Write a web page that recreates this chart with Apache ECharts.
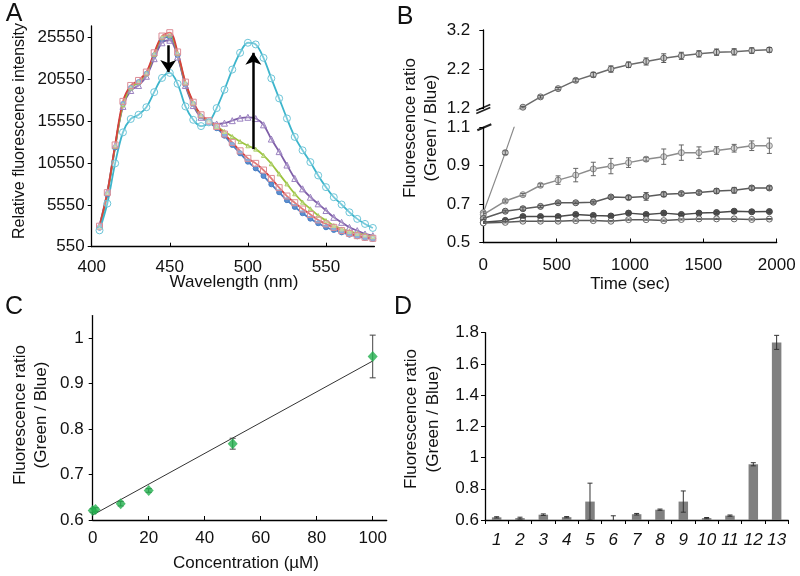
<!DOCTYPE html>
<html><head><meta charset="utf-8">
<script src="https://cdn.jsdelivr.net/npm/echarts@6/dist/echarts.min.js"></script>
<style>html,body{margin:0;padding:0;background:#fff}#c{width:800px;height:576px}</style>
</head><body><div id="c"></div>
<script>
// ---------- Panel A: emission spectra ----------
const wavelengths = [405,410,415,420,425,430,435,440,445,450,455,460,465,470,475,480,485,490,495,500,505,510,515,520,525,530,535,540,545,550,555,560,565,570,575,580];
const specBlue   = [2800,6800,12400,17600,19500,20200,21200,23400,25300,25600,23400,19900,17600,16100,15400,14700,13800,12700,11700,10700,9900,9000,8000,7050,6100,5300,4550,3900,3350,2870,2550,2260,1990,1790,1600,1470];
const specRed    = [3000,7000,12700,17900,19800,20400,21400,23700,25700,26100,23800,20200,17800,16300,15600,14900,14000,13000,12000,11100,10500,9700,8700,7600,6600,5800,5050,4400,3750,3270,2860,2470,2140,1870,1670,1550];
const specGreen  = [2900,6900,12500,17500,19500,20200,21200,23500,25500,25800,23600,20100,17700,16200,15500,14900,14300,13700,13100,12600,12200,11450,10450,9250,8050,6870,5870,5070,4270,3670,3070,2670,2380,2140,1950,1750];
const specPurple = [3100,7100,12600,17300,19200,19800,20900,23000,24900,25200,23200,19800,17400,16000,15500,15200,15300,15600,15900,16000,15850,15100,13400,11900,10300,8700,7460,6460,5670,4870,4060,3460,2860,2470,2070,1870];
const specCyan   = [2500,5700,10500,14200,15800,16300,17200,19000,20700,21300,20000,17300,15700,14950,15400,17100,19300,21700,23700,24900,24700,23100,20650,18260,15860,13660,12060,10650,9060,7660,6460,5590,4660,3870,3270,2790];
const specTicksX = [400,450,500,550];
const specTicksY = [550,5550,10550,15550,20550,25550];
const arrowDown = [[449,24600],[449,21400]];
const arrowUp   = [[503.5,12200],[503.5,23700]];

// ---------- Panel B: time course ----------
const times  = [0,150,270,390,510,630,750,870,990,1110,1230,1350,1470,1590,1710,1830,1950];
const ratio1 = [0.655,0.968,1.233,1.496,1.706,1.917,2.06,2.205,2.314,2.398,2.483,2.542,2.592,2.635,2.643,2.676,2.694];
const err1   = [0.005,0.01,0.02,0.03,0.03,0.04,0.06,0.08,0.07,0.09,0.11,0.09,0.08,0.08,0.08,0.07,0.06];
const ratio2 = [0.645,0.716,0.749,0.798,0.825,0.851,0.883,0.898,0.916,0.934,0.947,0.968,0.968,0.979,0.991,1.004,1.004];
const err2   = [0.005,0.006,0.006,0.008,0.022,0.035,0.035,0.04,0.025,0.01,0.04,0.04,0.03,0.02,0.02,0.025,0.04];
const ratio3 = [0.625,0.663,0.676,0.688,0.707,0.707,0.71,0.737,0.734,0.74,0.751,0.755,0.76,0.768,0.772,0.784,0.784];
const err3   = [0.004,0.005,0.008,0.005,0.004,0.004,0.005,0.006,0.01,0.02,0.012,0.008,0.008,0.012,0.015,0.01,0.01];
const ratio4 = [0.605,0.615,0.635,0.635,0.635,0.646,0.641,0.638,0.653,0.646,0.653,0.646,0.653,0.656,0.663,0.66,0.661];
const err4   = [0.004,0.004,0.005,0.005,0.005,0.005,0.005,0.005,0.005,0.005,0.005,0.005,0.005,0.005,0.006,0.005,0.005];
const ratio5 = [0.602,0.605,0.611,0.611,0.611,0.614,0.614,0.611,0.619,0.619,0.614,0.62,0.623,0.623,0.623,0.62,0.622];
const err5   = [0.003,0.003,0.003,0.003,0.003,0.003,0.003,0.003,0.003,0.003,0.003,0.003,0.003,0.003,0.003,0.003,0.003];
const timeTicks = [0,500,1000,1500,2000];
const ratioTicksLow  = [0.5,0.7,0.9,1.1];
const ratioTicksHigh = [1.2,2.2,3.2];

// ---------- Panel C: concentration ----------
const conc      = [0,1,10,20,50,100];
const concRatio = [0.621,0.623,0.636,0.665,0.768,0.96];
const concErr   = [0.004,0.004,0.005,0.004,0.012,0.047];
const concFit   = [[0,0.611],[100,0.950]];
const concTicksX = [0,20,40,60,80,100];
const concTicksY = [0.6,0.7,0.8,0.9,1];

// ---------- Panel D: selectivity ----------
const ions     = ['1','2','3','4','5','6','7','8','9','10','11','12','13'];
const ionRatio = [0.617,0.612,0.634,0.618,0.718,0.597,0.637,0.666,0.718,0.612,0.628,0.957,1.738];
const ionErr   = [0.004,0.006,0.005,0.004,0.118,0.03,0.005,0.004,0.068,0.004,0.004,0.01,0.045];
const ionTicksY = [0.6,0.8,1,1.2,1.4,1.6,1.8];

const FONT = 'Liberation Sans, Arial, sans-serif';
const txt = {color:'#111', fontFamily:FONT, fontSize:17};
const axLine = {show:true, onZero:false, lineStyle:{color:'#000', width:1.3}};
const fmt = v => String(v);

function xy(xs, ys){ return xs.map((x,i)=>[x, ys[i]]); }
function xye(xs, ys, es){ return xs.map((x,i)=>[x, ys[i], es[i]]); }
function errBars(color, cap){
  return function(params, api){
    const x = api.value(0), y = api.value(1), e = api.value(2);
    const hi = api.coord([x, y+e]), lo = api.coord([x, y-e]);
    const st = {stroke:color, lineWidth:1};
    return {type:'group', children:[
      {type:'line', shape:{x1:hi[0],y1:hi[1],x2:lo[0],y2:lo[1]}, style:st},
      {type:'line', shape:{x1:hi[0]-cap,y1:hi[1],x2:hi[0]+cap,y2:hi[1]}, style:st},
      {type:'line', shape:{x1:lo[0]-cap,y1:lo[1],x2:lo[0]+cap,y2:lo[1]}, style:st}
    ]};
  };
}
function specLine(name, ys, color, symbol, size, fill, border){
  return {name, type:'line', xAxisIndex:0, yAxisIndex:0, data:xy(wavelengths, ys), smooth:0.35,
    symbol, symbolSize:size, showSymbol:true,
    lineStyle:{color, width:1.8}, itemStyle:{color:fill, borderColor:border, borderWidth:1},
    emphasis:{disabled:true}, z:3};
}
function bLine(name, ys, xi, lineColor, lw, fill, border){
  return {name, type:'line', xAxisIndex:xi, yAxisIndex:xi, data:xy(times, ys), clip:true,
    symbol:'circle', symbolSize:6, showSymbol:true,
    lineStyle:{color:lineColor, width:lw}, itemStyle:{color:fill, borderColor:border, borderWidth:1},
    emphasis:{disabled:true}, z:4};
}
function bErr(ys, es, xi, color){
  return {type:'custom', xAxisIndex:xi, yAxisIndex:xi, data:xye(times, ys, es), clip:true,
    encode:{x:0, y:1}, renderItem:errBars(color, 2.5), z:5, silent:true};
}

const option = {
  animation:false,
  backgroundColor:'#fff',
  grid:[
    {left:91.7, top:26, width:282.7, height:220.7, containLabel:false, outerBoundsMode:'none'},
    {left:483.3, top:30, width:293.4, height:78.5, containLabel:false, outerBoundsMode:'none'},
    {left:483.3, top:127.3, width:293.4, height:115.2, containLabel:false, outerBoundsMode:'none'},
    {left:92.7, top:315.6, width:294, height:204.4, containLabel:false, outerBoundsMode:'none'},
    {left:485, top:332.7, width:303.3, height:187.3, containLabel:false, outerBoundsMode:'none'}
  ],
  xAxis:[
    {gridIndex:0, type:'value', min:400, max:581, axisLine:axLine,
      axisTick:{show:true, inside:true, length:4, customValues:specTicksX, lineStyle:{color:'#000'}},
      axisLabel:{customValues:specTicksX, margin:12, formatter:fmt, ...txt}, splitLine:{show:false}},
    {gridIndex:1, type:'value', min:0, max:2000, show:false, splitLine:{show:false}},
    {gridIndex:2, type:'value', min:0, max:2000, axisLine:axLine,
      axisTick:{show:true, inside:true, length:4, customValues:timeTicks, lineStyle:{color:'#000'}},
      axisLabel:{customValues:timeTicks, margin:14, formatter:fmt, ...txt}, splitLine:{show:false}},
    {gridIndex:3, type:'value', min:0, max:105, axisLine:axLine,
      axisTick:{show:true, inside:true, length:4, customValues:concTicksX, lineStyle:{color:'#000'}},
      axisLabel:{customValues:concTicksX, margin:10, formatter:fmt, ...txt}, splitLine:{show:false}},
    {gridIndex:4, type:'category', data:ions, axisLine:axLine,
      axisTick:{show:true, inside:false, length:4, alignWithLabel:false, lineStyle:{color:'#000'}},
      axisLabel:{interval:0, margin:12, fontStyle:'italic', ...txt}, splitLine:{show:false}}
  ],
  yAxis:[
    {gridIndex:0, type:'value', min:550, max:26900, axisLine:axLine,
      axisTick:{show:true, inside:false, length:4, customValues:specTicksY, lineStyle:{color:'#000'}},
      axisLabel:{customValues:specTicksY, margin:7, formatter:fmt, ...txt}, splitLine:{show:false}},
    {gridIndex:1, type:'value', min:1.2, max:3.2, axisLine:axLine,
      axisTick:{show:true, inside:false, length:4, customValues:ratioTicksHigh, lineStyle:{color:'#000'}},
      axisLabel:{customValues:ratioTicksHigh, margin:13, formatter:fmt, ...txt}, splitLine:{show:false}},
    {gridIndex:2, type:'value', min:0.5, max:1.1, axisLine:axLine,
      axisTick:{show:true, inside:false, length:4, customValues:ratioTicksLow, lineStyle:{color:'#000'}},
      axisLabel:{customValues:ratioTicksLow, margin:13, formatter:fmt, ...txt}, splitLine:{show:false}},
    {gridIndex:3, type:'value', min:0.6, max:1.05, axisLine:axLine,
      axisTick:{show:true, inside:false, length:4, customValues:concTicksY, lineStyle:{color:'#000'}},
      axisLabel:{customValues:concTicksY, margin:9, formatter:fmt, ...txt}, splitLine:{show:false}},
    {gridIndex:4, type:'value', min:0.6, max:1.8, axisLine:axLine,
      axisTick:{show:true, inside:false, length:4, customValues:ionTicksY, lineStyle:{color:'#000'}},
      axisLabel:{customValues:ionTicksY, margin:6, formatter:fmt, ...txt}, splitLine:{show:false}}
  ],
  series:[
    specLine('blue', specBlue, '#4a7fc4', 'circle', 5, '#5b8fd0', '#4a7fc4'),
    specLine('purple', specPurple, '#7f5fa8', 'triangle', 6, 'rgba(255,255,255,0.3)', '#9a80c0'),
    specLine('green', specGreen, '#9dc43f', 'triangle', 4, 'rgba(255,255,255,0.3)', '#a8cc60'),
    specLine('red', specRed, '#d6403e', 'rect', 6, 'rgba(255,255,255,0.3)', '#dc8c96'),
    Object.assign(specLine('cyan', specCyan, '#3db5cc', 'circle', 7, 'rgba(255,255,255,0.3)', '#6cc5d8'), {
      markLine:{silent:true, symbol:['none','arrow'], symbolSize:12, animation:false,
        label:{show:false}, emphasis:{disabled:true},
        itemStyle:{color:'#000'},
        lineStyle:{color:'#000', width:2.5, type:'solid'},
        data:[[{coord:arrowDown[0]},{coord:arrowDown[1]}],[{coord:arrowUp[0]},{coord:arrowUp[1]}]]}
    }),

    bLine('s1', ratio1, 1, '#6a6a6a', 1.5, '#c8c8c8', '#6a6a6a'),
    bErr(ratio1, err1, 1, '#555'),
    bLine('s1low', ratio1, 2, '#8a8a8a', 1.2, '#c8c8c8', '#777'),
    bLine('s2', ratio2, 2, '#8c8c8c', 1.5, '#d8d8d8', '#8a8a8a'),
    bLine('s3', ratio3, 2, '#5a5a5a', 1.5, '#aaaaaa', '#555'),
    bLine('s4', ratio4, 2, '#4a4a4a', 1.5, '#555555', '#444'),
    bLine('s5', ratio5, 2, '#5a5a5a', 1.5, '#ffffff', '#666'),
    bErr(ratio1, err1, 2, '#666'),
    bErr(ratio2, err2, 2, '#666'),
    bErr(ratio3, err3, 2, '#555'),
    bErr(ratio4, err4, 2, '#444'),
    bErr(ratio5, err5, 2, '#555'),

    {type:'line', xAxisIndex:3, yAxisIndex:3, data:concFit, symbol:'none',
      lineStyle:{color:'#333', width:1}, emphasis:{disabled:true}, z:2},
    {type:'custom', xAxisIndex:3, yAxisIndex:3, data:xye(conc, concRatio, concErr), encode:{x:0,y:1},
      renderItem:errBars('#444', 3), z:3, silent:true},
    {type:'scatter', xAxisIndex:3, yAxisIndex:3, data:xy(conc, concRatio), symbol:'diamond', symbolSize:[10,11],
      itemStyle:{color:'#22b04e'}, emphasis:{disabled:true}, z:4},

    {type:'bar', xAxisIndex:4, yAxisIndex:4, data:ionRatio, barWidth:9.5, clip:true,
      itemStyle:{color:'#808080'}, emphasis:{disabled:true}, z:2},
    {type:'custom', xAxisIndex:4, yAxisIndex:4, data:ionRatio.map((v,i)=>[i, v, ionErr[i]]), encode:{x:0,y:1},
      clip:true, renderItem:errBars('#333', 2.5), z:3, silent:true}
  ]
};

const chart = echarts.init(document.getElementById('c'), null, {renderer:'canvas'});
chart.setOption(option);

const pUp = chart.convertToPixel({gridIndex:1}, [0, 1.2]);
const pLo = chart.convertToPixel({gridIndex:2}, [0, 1.1]);
const tf = '17px ' + FONT;
function vtext(text, x, y, font){
  return {type:'text', x, y, rotation:Math.PI/2, style:{text, font:font||tf, fill:'#111', align:'center', verticalAlign:'middle'}};
}
function htext(text, x, y, font){
  return {type:'text', x, y, style:{text, font:font||tf, fill:'#111', align:'center', verticalAlign:'middle'}};
}
const brk = {stroke:'#222', lineWidth:1.6};
chart.setOption({graphic:[
  htext('A', 14, 14, '25px ' + FONT),
  htext('B', 405, 17, '25px ' + FONT),
  htext('C', 14, 307, '25px ' + FONT),
  htext('D', 403, 307, '25px ' + FONT),
  vtext('Relative fluorescence intensity', 19.5, 131, '16px ' + FONT),
  htext('Wavelength (nm)', 234, 282),
  vtext('Fluorescence ratio', 410.5, 128),
  vtext('(Green / Blue)', 431, 128),
  htext('Time (sec)', 630, 284),
  vtext('Fluorescence ratio', 20, 415),
  vtext('(Green / Blue)', 41, 415),
  htext('Concentration (\u00b5M)', 246, 563),
  vtext('Fluorescence ratio', 411, 419),
  vtext('(Green / Blue)', 433, 419),
  {type:'line', shape:{x1:pUp[0]-7, y1:pUp[1]+2, x2:pUp[0]+7, y2:pUp[1]-4}, style:brk},
  {type:'line', shape:{x1:pUp[0]-7, y1:pUp[1]+5, x2:pUp[0]+7, y2:pUp[1]-1}, style:brk},
  {type:'line', shape:{x1:pLo[0]-6, y1:pLo[1]+3, x2:pLo[0]+8, y2:pLo[1]-3}, style:{stroke:'#222', lineWidth:2.2}}
]});
</script>
</body></html>
